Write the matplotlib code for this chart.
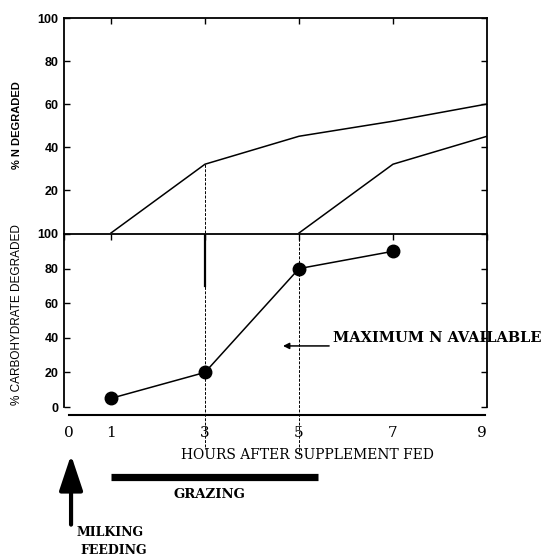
import matplotlib
matplotlib.use('Agg')
import matplotlib.pyplot as plt
import numpy as np

# ---- data ----
hours = [0, 1, 3, 5, 7, 9]
hour_labels = ['0', '1', '3', '5', '7', '9']

n_t1 = [1, 3, 5, 7, 9]
n_deg1 = [0, 32, 45, 52, 60]
n_t2 = [5, 7, 9]
n_deg2 = [0, 32, 45]

cho_t = [1, 3, 5, 7]
cho_deg = [5, 20, 80, 90]

y_ticks = [0, 20, 40, 60, 80, 100]
grazing = (1.0, 5.4)
milking_hour = 0.15

serif = {'family': 'DejaVu Serif', 'weight': 'bold', 'size': 10}
sans = {'family': 'Liberation Sans', 'weight': 'bold', 'size': 9}

fig = plt.figure(figsize=(5.43, 5.60), dpi=100)
ax1 = fig.add_axes([64/543, 1-233/560, 423/543, 215/560])
ax2 = fig.add_axes([64/543, 1-407/560, 423/543, 173/560])

# ---- top panel: % N degraded ----
ax1.plot(n_t1, n_deg1, color='black', lw=1.1)
ax1.plot(n_t2, n_deg2, color='black', lw=1.1)
ax1.plot([3, 3], [0, n_deg1[1]], color='black', lw=0.7, ls=(0, (3, 1.5)))
ax1.set_xlim(0, 9)
ax1.set_ylim(0, 100)
ax1.set_xticks([1, 3, 5, 7])
ax1.set_yticks(y_ticks[1:])
ax1.set_yticklabels([str(v) for v in y_ticks[1:]], fontdict=sans)
ax1.tick_params(direction='in', length=4, width=1, top=True, right=True,
                bottom=False, labelbottom=False, pad=4)
for s in ax1.spines.values():
    s.set_linewidth(1.3)
ax1.spines['bottom'].set_visible(False)

# ---- bottom panel: % carbohydrate degraded ----
ax2.plot(cho_t, cho_deg, color='black', lw=1.1, marker='o', ms=9)
ax2.set_xlim(0, 9)
ax2.set_ylim(0, 100)
ax2.set_yticks(y_ticks)
ax2.set_yticklabels([str(v) for v in y_ticks], fontdict=sans)
ax2.set_xticks(hours)
ax2.set_xticklabels(hour_labels, fontdict={'family': 'DejaVu Serif', 'size': 11})
ax2.tick_params(axis='y', direction='in', length=4, width=1, right=True, pad=4)
ax2.tick_params(axis='x', direction='in', length=4, width=1, top=True,
                bottom=False, pad=14)
xt = ax2.xaxis.get_major_ticks()
xt[0].label1.set_horizontalalignment('left')
xt[-1].label1.set_horizontalalignment('right')
for s in ax2.spines.values():
    s.set_linewidth(1.3)
ax2.spines['bottom'].set_visible(False)

# separate time axis line below the panel
ax2.plot([0.1, 8.95], [-4.6, -4.6], color='black', lw=1.5, clip_on=False)

# dashed verticals through both panels
ax2.plot([3, 3], [100, -24], color='black', lw=0.7, ls=(0, (3, 1.5)), clip_on=False)
ax2.plot([5, 5], [100, -28], color='black', lw=0.7, ls=(0, (3, 1.5)), clip_on=False)
ax2.plot([3, 3], [100, 70], color='black', lw=1.6)

# annotation
ax2.annotate('', xy=(4.6, 35.3), xytext=(5.7, 35.3),
             arrowprops=dict(arrowstyle='-|>', color='black', lw=1.1,
                             mutation_scale=9))
ax2.text(5.72, 40, 'MAXIMUM N AVAILABLE', fontdict=dict(serif, size=10.5),
         ha='left', va='center', clip_on=False)

ax2.text(5.19, -27.7, 'HOURS AFTER SUPPLEMENT FED',
         fontdict={'family': 'DejaVu Serif', 'size': 10},
         ha='center', va='center', clip_on=False)

# grazing bar
ax2.plot(list(grazing), [-40.5, -40.5], color='black', lw=5.2,
         solid_capstyle='butt', clip_on=False)
ax2.text(3.1, -50.3, 'GRAZING', fontdict=dict(serif, size=9.5), ha='center',
         va='center', clip_on=False)

# milking / feeding arrow
ax2.annotate('', xy=(milking_hour, -27.7), xytext=(milking_hour, -68),
             arrowprops=dict(arrowstyle='-|>,head_length=1.8,head_width=0.6',
                             color='black', lw=3, mutation_scale=12,
                             shrinkA=0, shrinkB=0),
             annotation_clip=False)
ax2.text(0.26, -72.8, 'MILKING', fontdict=dict(serif, size=9), ha='left',
         va='center', clip_on=False)
ax2.text(0.34, -82.7, 'FEEDING', fontdict=dict(serif, size=9), ha='left',
         va='center', clip_on=False)

# y labels
fig.text(17/543, 1-125/560, '% N DEGRADED', rotation=90, ha='center',
         va='center', fontdict={'family': 'Liberation Sans', 'weight': 'bold', 'size': 8})
fig.text(17/543, 1-315/560, '% CARBOHYDRATE DEGRADED', rotation=90,
         ha='center', va='center',
         fontdict={'family': 'Liberation Sans', 'size': 8.5})

fig.savefig('out.png', dpi=100)
